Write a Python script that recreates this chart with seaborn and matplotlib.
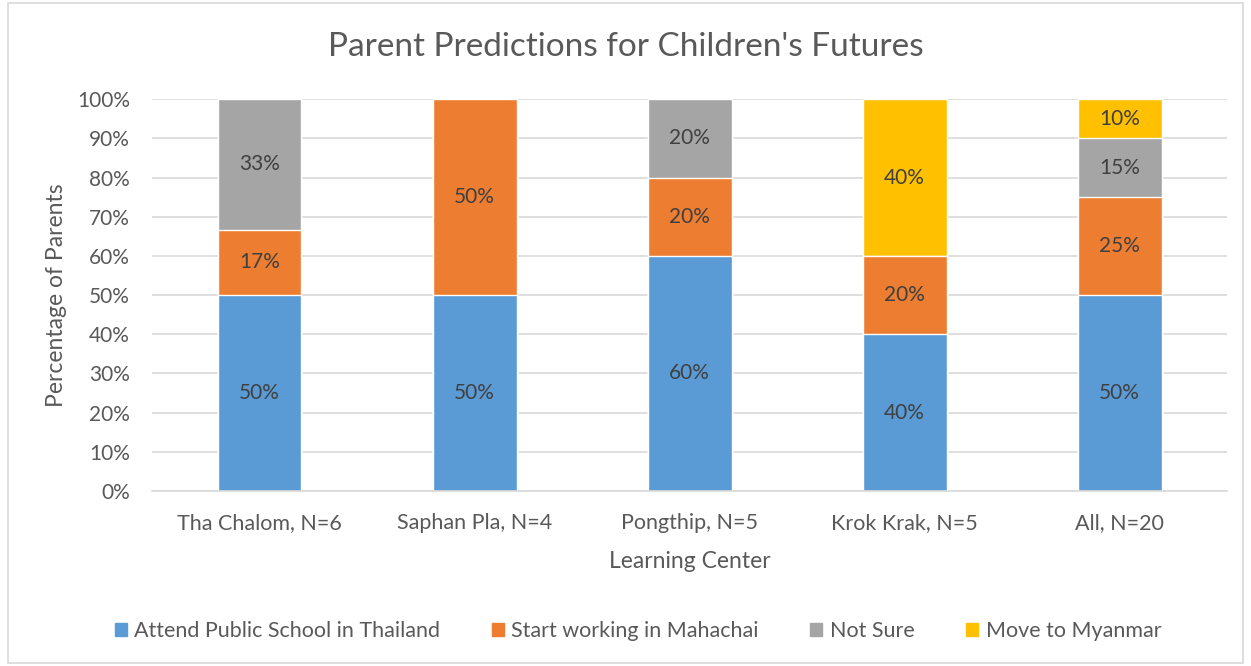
import matplotlib
matplotlib.use('Agg')
import matplotlib.pyplot as plt
import matplotlib.patches as mpatches
import numpy as np
import pandas as pd
import seaborn as sns

# datos de la grafica
centros = ['Tha Chalom, N=6', 'Saphan Pla, N=4', 'Pongthip, N=5', 'Krok Krak, N=5', 'All, N=20']
series = ['Attend Public School in Thailand', 'Start working in Mahachai', 'Not Sure', 'Move to Myanmar']
escuela = [50, 50, 60, 40, 50]
trabajo = [16.67, 50, 20, 20, 25]
no_seguro = [33.33, 0, 20, 0, 15]
myanmar = [0, 0, 0, 40, 10]
colores = ['#5B9BD5', '#ED7D31', '#A5A5A5', '#FFC000']

gris_texto = '#595959'

sns.set_style('white')
plt.rcParams['font.family'] = ['Lato', 'DejaVu Sans']

fig = plt.figure(figsize=(12.51, 6.66), dpi=100)
ax = fig.add_axes([0.1215, 0.263, 0.981 - 0.1215, 0.851 - 0.263])

# marco de la figura
fig.patches.append(mpatches.Rectangle((0.006, 0.005), 0.988, 0.99, transform=fig.transFigure,
                                      fill=False, edgecolor='#D9D9D9', linewidth=1.2))

valores = [escuela, trabajo, no_seguro, myanmar]
acumulado = np.cumsum(np.array(valores, dtype=float), axis=0)

# se dibuja de arriba hacia abajo para apilar
for i in range(3, -1, -1):
    df = pd.DataFrame({'centro': centros, 'valor': acumulado[i]})
    sns.barplot(data=df, x='centro', y='valor', color=colores[i], width=0.39,
                saturation=1, ax=ax, zorder=2)

# etiquetas de cada segmento
n = len(centros)
for i in range(4):
    for j in range(n):
        v = valores[i][j]
        if v <= 0:
            continue
        y = acumulado[i][j] - v / 2
        ax.text(j, y, f'{round(v):d}%', ha='center', va='center', fontsize=15, color='#404040', zorder=5)

ax.set_ylim(0, 100)
ax.set_xlim(-0.5, n - 0.5)
ax.set_yticks(range(0, 101, 10))
ax.set_yticklabels([f'{t}%' for t in range(0, 101, 10)])
ax.yaxis.grid(True, color='#D9D9D9', linewidth=1.2, zorder=0)
ax.set_axisbelow(True)
for s in ['top', 'right', 'left']:
    ax.spines[s].set_visible(False)
ax.spines['bottom'].set_color('#D9D9D9')
ax.spines['bottom'].set_linewidth(1.2)
ax.tick_params(axis='y', length=0, labelsize=15, labelcolor=gris_texto, pad=16)
ax.tick_params(axis='x', length=0, labelsize=15.5, labelcolor=gris_texto, pad=16)

ax.set_xlabel('Learning Center', fontsize=16.5, color=gris_texto, labelpad=13)
ax.set_ylabel('Percentage of Parents', fontsize=16.5, color=gris_texto, labelpad=7)
fig.suptitle("Parent Predictions for Children's Futures", fontsize=24, color=gris_texto, y=0.952)

handles = [mpatches.Patch(color=c) for c in colores]
fig.legend(handles, series, loc='center', bbox_to_anchor=(0.51, 0.053), ncol=4, frameon=False,
           fontsize=15.5, labelcolor=gris_texto, handlelength=0.55, handleheight=0.55,
           handletextpad=0.35, columnspacing=2.4)

fig.savefig('out.png', dpi=100)
